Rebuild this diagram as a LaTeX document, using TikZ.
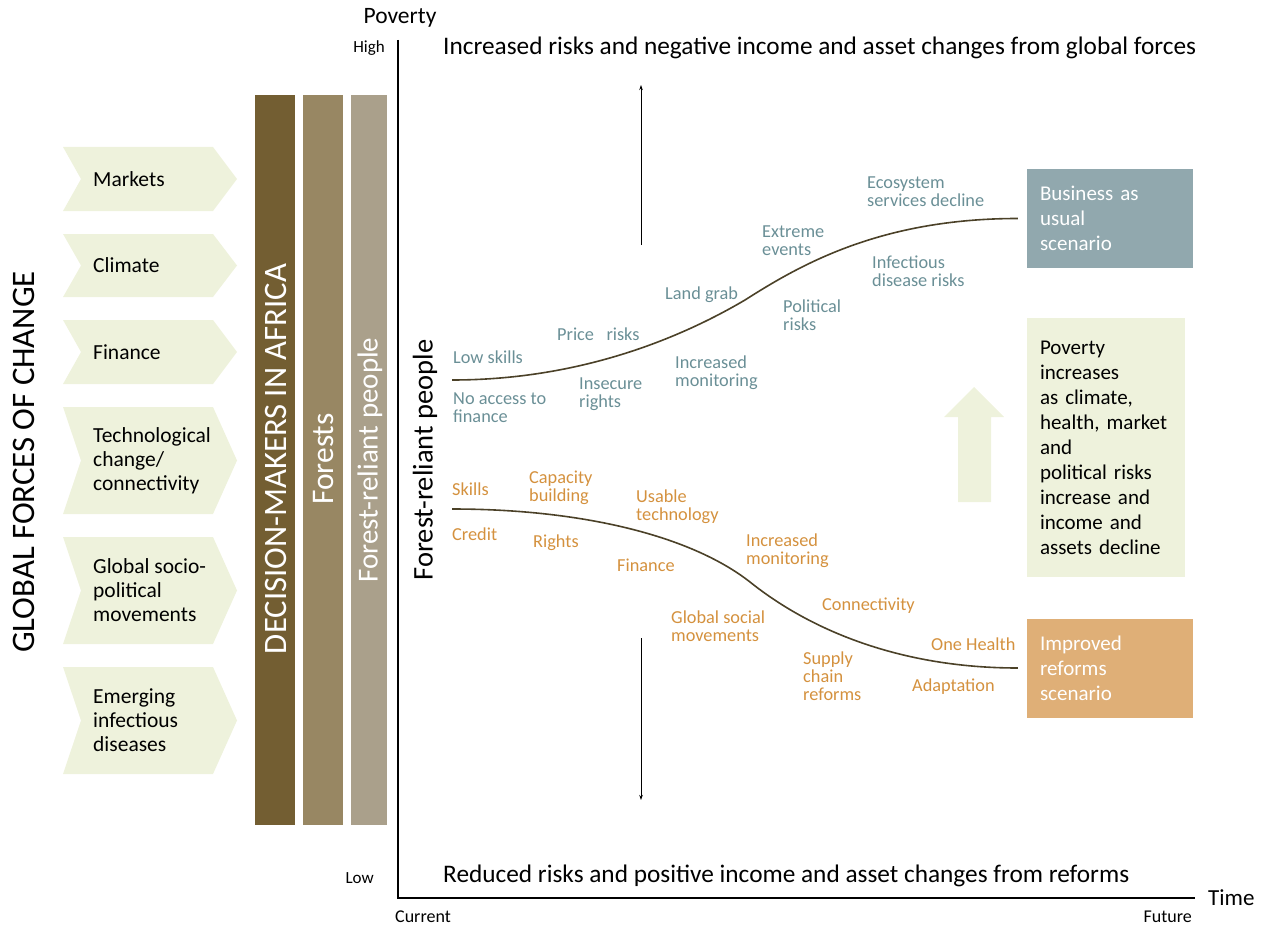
\documentclass[tikz,border=0pt]{standalone}
\usepackage{fontspec}
\setmainfont{Carlito}
\usetikzlibrary{arrows.meta}

\definecolor{forcefill}{HTML}{EEF2DC}
\definecolor{darkbar}{HTML}{735E32}
\definecolor{midbar}{HTML}{988763}
\definecolor{lightbar}{HTML}{AAA08B}
\definecolor{bauc}{HTML}{91A8AE}
\definecolor{reformc}{HTML}{DFAF77}
\definecolor{risktext}{HTML}{6A8F96}
\definecolor{reformtext}{HTML}{D4913E}
\definecolor{trendc}{HTML}{4B4128}

\newcommand\labfont{\fontsize{18.3}{18}\selectfont}
\newcommand\forcefont{\fontsize{21.5}{24}\selectfont}
\newcommand\boxfont{\fontsize{21}{25}\selectfont}

\tikzset{
	forcetext/.style={anchor=west,align=left,inner sep=0,font=\forcefont},
	bartext/.style={rotate=90,text=white,inner sep=0,font=\fontsize{29}{30}\selectfont},
	riskl/.style={anchor=west,align=left,inner sep=0,text=risktext,font=\labfont},
	reforml/.style={anchor=west,align=left,inner sep=0,text=reformtext,font=\labfont},
	scenbox/.style={minimum width=166pt,minimum height=99pt,inner xsep=13pt,text width=140pt,align=left,text=white,font=\boxfont},
	trend/.style={color=trendc,line width=1.6pt},
	thinarrow/.style={-{Stealth[length=5pt,width=3.5pt]},line width=0.8pt}
}

\begin{document}
\begin{tikzpicture}[x=1pt,y=-1pt]
		\useasboundingbox (0,0) rectangle (1268,928);
		
		% global forces
		\node[rotate=90,inner sep=0,font=\fontsize{32.8}{34}\selectfont] (gfc) at (24,462) {GLOBAL FORCES OF CHANGE};
		
		\fill[forcefill] (63,147) -- (213,147) -- (237,179) -- (213,211) -- (63,211) -- (81,179) -- cycle;
		\node[forcetext] (markets) at (93,179) {Markets};
		\fill[forcefill] (63,234) -- (213,234) -- (237,265.5) -- (213,297) -- (63,297) -- (81,265.5) -- cycle;
		\node[forcetext] (climate) at (93,265.5) {Climate};
		\fill[forcefill] (63,320) -- (213,320) -- (237,352) -- (213,384) -- (63,384) -- (81,352) -- cycle;
		\node[forcetext] (finance) at (93,352) {Finance};
		\fill[forcefill] (63,407) -- (213,407) -- (237,460.5) -- (213,514) -- (63,514) -- (81,460.5) -- cycle;
		\node[forcetext] (techno) at (93,460.5) {Technological\\change/\\connectivity};
		\fill[forcefill] (63,537) -- (213,537) -- (237,590.5) -- (213,644) -- (63,644) -- (81,590.5) -- cycle;
		\node[forcetext] (sociopol) at (93,590.5) {Global socio-\\political\\movements};
		\fill[forcefill] (63,667) -- (213,667) -- (237,720.5) -- (213,774) -- (63,774) -- (81,720.5) -- cycle;
		\node[forcetext] (disease) at (93,720.5) {Emerging\\infectious\\diseases};
		
		% bars
		\fill[darkbar] (255,95) rectangle (295,825);
		\fill[midbar] (303,95) rectangle (343,825);
		\fill[lightbar] (351,95) rectangle (387,825);
		\node[bartext,font=\fontsize{32.7}{34}\selectfont] (decision) at (276,459) {DECISION-MAKERS IN AFRICA};
		\node[bartext,font=\fontsize{31.5}{32}\selectfont] (forests) at (324,459) {Forests};
		\node[bartext] (reliant) at (370,460) {Forest-reliant people};
		
		% axes
		\coordinate (ytop) at (398,40);
		\coordinate (origin) at (398,898);
		\coordinate (xend) at (1195,898);
		\draw[line width=2.2pt] (ytop) -- (origin) -- (xend);
		\node[font=\fontsize{23.5}{24}\selectfont,inner sep=0] (poverty) at (400,18) {Poverty};
		\node[anchor=east,font=\fontsize{17}{17}\selectfont,inner sep=0] (high) at (385,48) {High};
		\node[anchor=east,font=\fontsize{17}{17}\selectfont,inner sep=0] (low) at (374,878) {Low};
		\node[font=\fontsize{18}{18}\selectfont,inner sep=0] (current) at (423,917) {Current};
		\node[anchor=east,font=\fontsize{18}{18}\selectfont,inner sep=0] (future) at (1192,917) {Future};
		\node[anchor=west,font=\fontsize{23}{23}\selectfont,inner sep=0] (time) at (1208,898) {Time};
		\node[rotate=90,inner sep=0,font=\fontsize{28.5}{30}\selectfont] (ylab) at (425,460) {Forest-reliant people};
		\node[anchor=west,inner sep=0,font=\fontsize{25.3}{26}\selectfont] (toptext) at (443,48) {Increased risks and negative income and asset changes from global forces};
		\node[anchor=west,inner sep=0,font=\fontsize{25.3}{26}\selectfont] (bottext) at (443,876) {Reduced risks and positive income and asset changes from reforms};
		
		% poverty arrows
		\coordinate (uptail) at (641,245);
		\coordinate (uphead) at (641,85);
		\coordinate (downtail) at (641,638);
		\coordinate (downhead) at (641,800);
		\draw[thinarrow] (uptail) -- (uphead);
		\draw[thinarrow] (downtail) -- (downhead);
		
		% scenario boxes
		\node[scenbox,fill=bauc] (bau) at (1110,218.5) {Business as\\usual\\scenario};
		\node[scenbox,fill=reformc] (reform) at (1110,668) {Improved\\reforms\\scenario};
		\node[scenbox,fill=forcefill,text=black,minimum width=158pt,minimum height=259pt,text width=132pt] (povbox) at (1106,447.5) {Poverty\\increases\\as climate,\\health, market\\and\\political risks\\increase and\\income and\\assets decline};
		\fill[forcefill] (958,502) -- (958,417) -- (944,417) -- (974,387) -- (1004,417) -- (991,417) -- (991,502) -- cycle;
		
		% trends
		\coordinate (ustart) at (452,380);
		\coordinate (lstart) at (452,509);
		\draw[trend,shorten >=9pt] (ustart) .. controls (560,380) and (660,350) .. (745,300) .. controls (800,265) and (880,218.5) .. (bau.west);
		\draw[trend,shorten >=9pt] (lstart) .. controls (580,509) and (690,535) .. (750,582) .. controls (810,630) and (900,668) .. (reform.west);
		
		% risks
		\node[riskl] (lowskills) at (453,357) {Low skills};
		\node[riskl] (noaccess) at (453,408) {No access to\\finance};
		\node[riskl] (price) at (557,334) {Price\ \ \ risks};
		\node[riskl] (insecure) at (579,394) {Insecure\\rights};
		\node[riskl] (landgrab) at (665,295) {Land grab};
		\node[riskl] (monitor) at (675,373) {Increased\\monitoring};
		\node[riskl] (extreme) at (762,241) {Extreme\\events};
		\node[riskl] (political) at (783,315) {Political\\risks};
		\node[riskl] (ecosys) at (867,192) {Ecosystem\\services decline};
		\node[riskl] (infect) at (872,271) {Infectious\\disease risks};
		
		% reforms
		\node[reforml] (skills) at (452,489) {Skills};
		\node[reforml] (capacity) at (529,488) {Capacity\\building};
		\node[reforml] (usable) at (636,507) {Usable\\technology};
		\node[reforml] (credit) at (452,534) {Credit};
		\node[reforml] (rights) at (533,543) {Rights};
		\node[reforml] (finref) at (617,565) {Finance};
		\node[reforml] (monref) at (746,551) {Increased\\monitoring};
		\node[reforml] (globsoc) at (671,626) {Global social\\movements};
		\node[reforml] (connect) at (822,606) {Connectivity};
		\node[reforml] (onehealth) at (931,644) {One Health};
		\node[reforml] (supply) at (803,676) {Supply\\chain\\reforms};
		\node[reforml] (adapt) at (912,687) {Adaptation};
	\end{tikzpicture}
\end{document}
